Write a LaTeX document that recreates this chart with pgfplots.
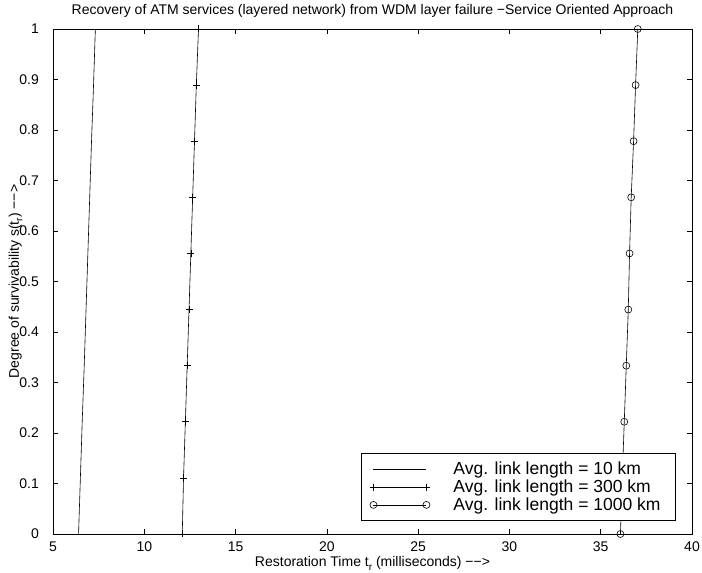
\documentclass[border=0pt]{standalone}
\usepackage{fontspec}
\setmainfont{Liberation Sans}
\usepackage{pgfplots}
\pgfplotsset{compat=1.18}
\newcommand{\sub}[1]{\raisebox{-0.45ex}{\fontsize{10}{10}\selectfont #1}}
\begin{document}
\begin{tikzpicture}
\path[use as bounding box] (-53pt,-39pt) rectangle (649pt,534pt);
\begin{axis}[
  at={(0pt,0pt)}, anchor=south west,
  width=639pt, height=505pt, scale only axis,
  xmin=5, xmax=40, ymin=0, ymax=1,
  xtick={5,10,15,20,25,30,35,40},
  ytick={0,0.1,0.2,0.3,0.4,0.5,0.6,0.7,0.8,0.9,1},
  yticklabels={0,0.1,0.2,0.3,0.4,0.5,0.6,0.7,0.8,0.9,1},
  tick align=inside, tick pos=both,
  major tick length=5pt,
  axis line style={line width=0.9pt},
  every tick/.style={black, line width=0.6pt},
  /pgf/number format/assume math mode=true,
  tick label style={font=\fontsize{14}{16}\selectfont, inner sep=0pt},
  xticklabel style={anchor=base, yshift=-18pt},
  yticklabel style={anchor=east, xshift=-14pt},
  title={Recovery of ATM services (layered network) from WDM layer failure −Service Oriented Approach},
  title style={font=\fontsize{14}{16}\selectfont, inner sep=0pt, at={(axis description cs:0.5,1)}, anchor=base, yshift=8.5pt},
  xlabel={Restoration Time t\sub{r} (milliseconds) −−>},
  ylabel={Degree of survivability s(t\sub{r}) −−>},
  label style={font=\fontsize{14}{16}\selectfont, inner sep=0pt},
  xlabel style={at={(axis description cs:0.5,0)}, anchor=base, yshift=-33pt},
  ylabel style={at={(axis description cs:0,0.5)}, anchor=base, yshift=34pt},
  clip=false,
  legend style={at={(axis description cs:1,0)}, anchor=south east, xshift=-16pt, yshift=13pt,
    font=\fontsize{17.5}{19}\selectfont, draw=black, line width=1pt,
    inner xsep=5pt, inner ysep=8.5pt,
    nodes={inner sep=0pt}, row sep=3.6pt, column sep=0pt},
  legend cell align=left,
  legend image code/.code={%
    \path[draw=none] (0pt,0pt) -- (87pt,0pt);
    \draw[#1, line width=0.6pt, mark repeat=1] plot coordinates {(7pt,0pt) (60pt,0pt)};},
]
\addplot[black, line width=0.6pt] coordinates {
(6.40,0) (6.50,0.1111) (6.60,0.2222) (6.71,0.3333) (6.81,0.4444) (6.91,0.5556) (7.01,0.6667) (7.11,0.7778) (7.22,0.8889) (7.32,1)};
\addlegendentry{Avg. link length = 10 km\hspace*{10pt}}
\addplot[black, line width=0.6pt, mark=+, mark size=3.5pt, mark options={solid, line width=0.6pt}] coordinates {
(12.08,0) (12.15,0.1111) (12.25,0.2222) (12.35,0.3333) (12.45,0.4444) (12.55,0.5556) (12.65,0.6667) (12.75,0.7778) (12.85,0.8889) (12.97,1)};
\addlegendentry{Avg. link length = 300 km\hspace*{10pt}}
\addplot[black, line width=0.6pt, mark=o, mark size=3.5pt, mark options={solid, line width=0.6pt}] coordinates {
(36.08,0) (36.18,0.1111) (36.29,0.2222) (36.40,0.3333) (36.51,0.4444) (36.58,0.5556) (36.67,0.6667) (36.80,0.7778) (36.91,0.8889) (37.03,1)};
\addlegendentry{Avg. link length = 1000 km\hspace*{10pt}}
\end{axis}
\end{tikzpicture}
\end{document}
